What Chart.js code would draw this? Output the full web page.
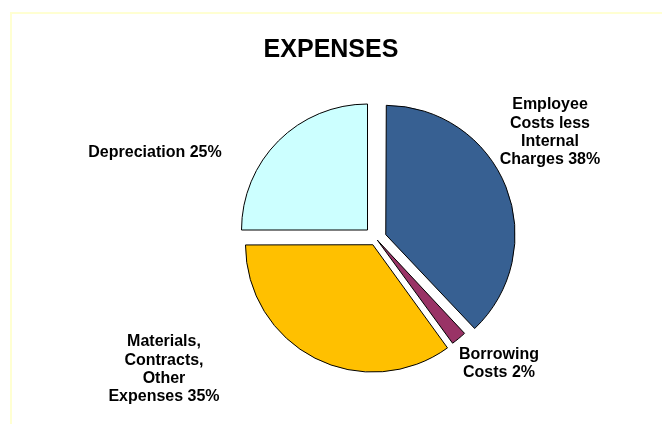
<!DOCTYPE html>
<html>
<head>
<meta charset="utf-8">
<script src="https://cdn.jsdelivr.net/npm/chart.js@4.4.1/dist/chart.umd.min.js"></script>
<style>
  html, body { margin: 0; padding: 0; background: #ffffff; }
  #wrap { position: relative; width: 662px; height: 424px; }
</style>
</head>
<body>
<div id="wrap"><canvas id="chart" width="662" height="424"></canvas></div>
<script>
// Expense categories, in drawing order (clockwise from 12 o'clock)
const categories = [
  'Employee Costs less Internal Charges',
  'Borrowing Costs',
  'Materials, Contracts, Other Expenses',
  'Depreciation'
];
// Share of total expenses, percent
const shares = [38, 2, 35, 25];
// Wrapped label lines for each category (percentage appended to the last line)
const labelLines = [
  ['Employee', 'Costs less', 'Internal', 'Charges'],
  ['Borrowing', 'Costs'],
  ['Materials,', 'Contracts,', 'Other', 'Expenses'],
  ['Depreciation']
];

const sliceColors = ['#376092', '#993366', '#FFC000', '#CCFFFF'];
const FONT = '"Liberation Sans", Arial, Helvetica, sans-serif';

// Label anchors, relative to the pie centre
const labelAnchors = [
  { dx: 174, dy: -106 },
  { dx: 123, dy: 125 },
  { dx: -212, dy: 131 },
  { dx: -221, dy: -86 }
];

const framePlugin = {
  id: 'frame',
  beforeDraw(chart) {
    const ctx = chart.ctx;
    ctx.save();
    ctx.fillStyle = '#ffffff';
    ctx.fillRect(0, 0, chart.width, chart.height);
    ctx.fillStyle = '#FFFFD2';
    ctx.fillRect(10, 12, chart.width - 10, 2);
    ctx.fillRect(10, 12, 2, chart.height - 12);
    ctx.restore();
  }
};

const textPlugin = {
  id: 'pieText',
  afterDraw(chart) {
    const ctx = chart.ctx;
    ctx.save();
    ctx.fillStyle = '#000000';
    ctx.textAlign = 'center';
    // title
    ctx.font = 'bold 25px ' + FONT;
    ctx.textBaseline = 'alphabetic';
    ctx.fillText('EXPENSES', 331, 57);

    // slice labels
    const meta = chart.getDatasetMeta(0);
    const arc0 = meta.data[0];
    const cx = arc0.x, cy = arc0.y;
    ctx.font = 'bold 16px ' + FONT;
    ctx.textBaseline = 'middle';
    const lh = 18.3;
    labelLines.forEach((lines, i) => {
      const full = lines.slice();
      const last = full.length - 1;
      full[last] = full[last] + ' ' + shares[i] + '%';
      const ax = cx + labelAnchors[i].dx;
      const ay = cy + labelAnchors[i].dy;
      const top = ay - (full.length - 1) * lh / 2;
      full.forEach((t, k) => ctx.fillText(t, ax, top + k * lh));
    });
    ctx.restore();
  }
};

new Chart(document.getElementById('chart'), {
  type: 'pie',
  data: {
    labels: categories,
    datasets: [{
      data: shares,
      backgroundColor: sliceColors,
      borderColor: '#000000',
      borderWidth: 1,
      offset: [42, 8, 28, 48],
      radius: 126
    }]
  },
  options: {
    responsive: false,
    animation: false,
    events: [],
    layout: { padding: { left: 90, top: 53, right: 0, bottom: 0 } },
    plugins: {
      legend: { display: false },
      title: { display: false },
      tooltip: { enabled: false }
    }
  },
  plugins: [framePlugin, textPlugin]
});
</script>
</body>
</html>
